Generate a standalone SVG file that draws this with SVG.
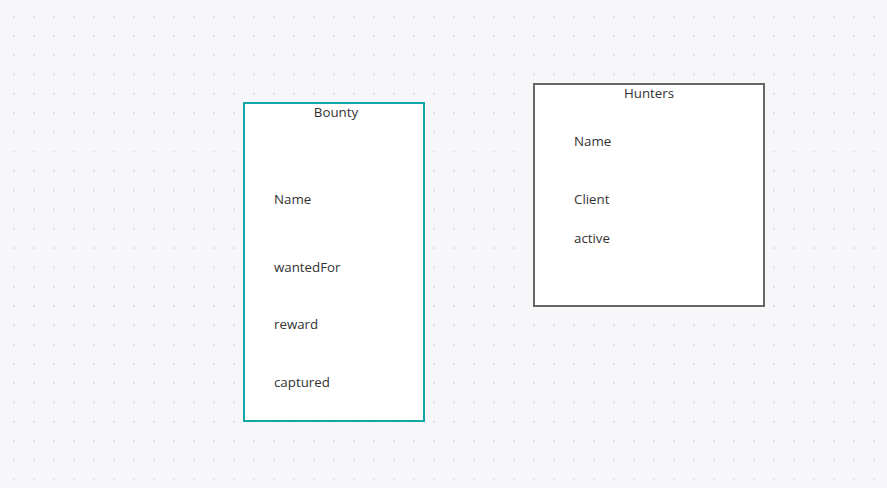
<svg xmlns="http://www.w3.org/2000/svg" width="887" height="488" viewBox="0 0 887 488">
  <defs>
    <pattern id="dots" x="4" y="7.05" width="20" height="19.29" patternUnits="userSpaceOnUse">
      <circle cx="10" cy="9.65" r="1.1" fill="#dddee3"/>
    </pattern>
    <style>
      .box { fill: #ffffff; stroke-width: 2; }
      .t { font-family: "Open Sans", "Noto Sans", sans-serif; font-size: 13.3px; fill: #333333; }
      .title { text-anchor: middle; }
    </style>
  </defs>
  <rect width="887" height="488" fill="#f7f7f9"/>
  <rect width="887" height="488" fill="url(#dots)"/>
  <g id="connectors"></g>
  <g id="bounty">
    <rect class="box" x="244" y="103" width="180" height="318" stroke="#13a6a6"/>
    <text class="t title" x="336" y="117">Bounty</text>
    <text class="t" x="274" y="204">Name</text>
    <text class="t" x="274" y="271.5">wantedFor</text>
    <text class="t" x="274" y="329.3">reward</text>
    <text class="t" x="274" y="387.3">captured</text>
  </g>
  <g id="hunters">
    <rect class="box" x="534" y="84" width="230" height="222" stroke="#666666"/>
    <text class="t title" x="649" y="97.7">Hunters</text>
    <text class="t" x="574" y="146">Name</text>
    <text class="t" x="574" y="204">Client</text>
    <text class="t" x="574" y="242.5">active</text>
  </g>
</svg>
